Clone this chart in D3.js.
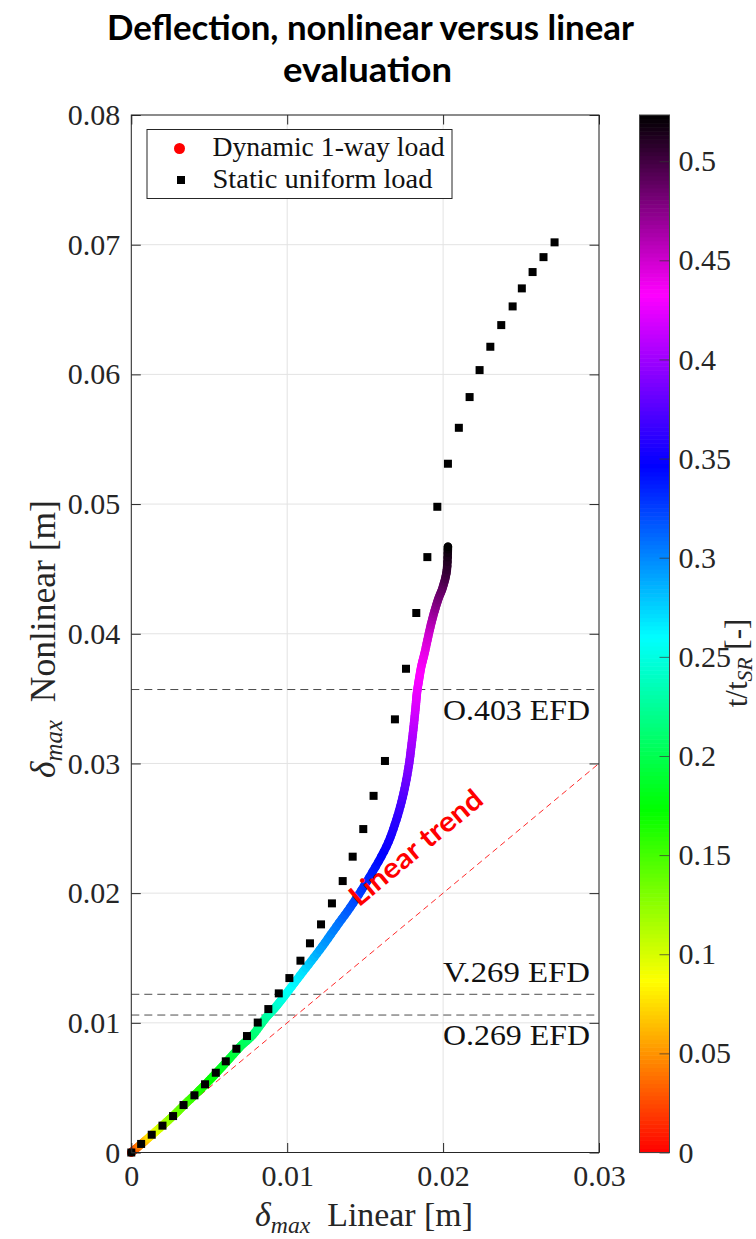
<!DOCTYPE html>
<html>
<head>
<meta charset="utf-8">
<script src="https://cdn.jsdelivr.net/npm/d3@7"></script>
<style>
  body { margin: 0; background: #fff; }
  svg { display: block; }
</style>
</head>
<body>
<svg id="chart" width="756" height="1239"></svg>
<script>
// Static uniform load: maximum deflection, linear vs nonlinear analysis [m]
const staticLinear = [0, 0.00063, 0.00131, 0.00200, 0.00268, 0.00335, 0.00405, 0.00473, 0.00542, 0.00606,
  0.00674, 0.00742, 0.00811, 0.00879, 0.00946, 0.01014, 0.01085, 0.01146, 0.01217, 0.01287,
  0.01356, 0.01420, 0.01488, 0.01554, 0.01627, 0.01691, 0.01762, 0.01828, 0.01899, 0.01963,
  0.02031, 0.02101, 0.02170, 0.02234, 0.02303, 0.02373, 0.02446, 0.02505, 0.02574, 0.02644, 0.02715];
const staticNonlinear = [0, 0.00066, 0.00137, 0.00207, 0.00281, 0.00366, 0.00441, 0.00526, 0.00615, 0.00703,
  0.00800, 0.00898, 0.01002, 0.01106, 0.01227, 0.01345, 0.01479, 0.01613, 0.01759, 0.01921,
  0.02093, 0.02281, 0.02494, 0.02750, 0.03019, 0.03340, 0.03730, 0.04160, 0.04591, 0.04979,
  0.05311, 0.05588, 0.05825, 0.06033, 0.06213, 0.06380, 0.06524, 0.06663, 0.06789, 0.06904, 0.07018];

// Dynamic 1-way load trajectory, with normalised time t/t_SR
const dynLinear = [0, 0.00065, 0.00133, 0.00204, 0.00274, 0.00345, 0.00413, 0.00486, 0.00559, 0.00631,
  0.00704, 0.00779, 0.00862, 0.00926, 0.00995, 0.01101, 0.01208, 0.01315, 0.01422, 0.01529,
  0.01636, 0.01700, 0.01747, 0.01779, 0.01796, 0.01811, 0.01824, 0.01832, 0.01845, 0.01860,
  0.01881, 0.01909, 0.01935, 0.01967, 0.01999, 0.02024, 0.02031];
const dynNonlinear = [0, 0.00066, 0.00137, 0.00212, 0.00289, 0.00374, 0.00451, 0.00538, 0.00631, 0.00726,
  0.00823, 0.00906, 0.01037, 0.01122, 0.01227, 0.01394, 0.01561, 0.01741, 0.01921, 0.02126,
  0.02358, 0.02564, 0.02772, 0.02975, 0.03129, 0.03283, 0.03437, 0.03541, 0.03643, 0.03746,
  0.03849, 0.04003, 0.04131, 0.04260, 0.04362, 0.04491, 0.04671];
const dynTime = [0.01, 0.05, 0.085, 0.11, 0.13, 0.145, 0.16, 0.17, 0.18, 0.19,
  0.20, 0.21, 0.225, 0.24, 0.255, 0.27, 0.29, 0.305, 0.32, 0.335,
  0.35, 0.36, 0.375, 0.39, 0.40, 0.41, 0.42, 0.425, 0.43, 0.435,
  0.44, 0.45, 0.465, 0.48, 0.49, 0.505, 0.523];

// Reference deflection levels
const refLevels = [0.0357, 0.0122, 0.0106];
const refLabels = ["O.403 EFD", "V.269 EFD", "O.269 EFD"];
const refLabelSide = ["below", "above", "below"];

// Linear trend (nonlinear = linear)
const trendLinear = [0, 0.03];
const trendNonlinear = [0, 0.03];

// Axis ticks
const xTicks = [0, 0.01, 0.02, 0.03];
const xTickLabels = ["0", "0.01", "0.02", "0.03"];
const yTicks = [0, 0.01, 0.02, 0.03, 0.04, 0.05, 0.06, 0.07, 0.08];
const yTickLabels = ["0", "0.01", "0.02", "0.03", "0.04", "0.05", "0.06", "0.07", "0.08"];
const cbTicks = [0, 0.05, 0.1, 0.15, 0.2, 0.25, 0.3, 0.35, 0.4, 0.45, 0.5];
const cbTickLabels = ["0", "0.05", "0.1", "0.15", "0.2", "0.25", "0.3", "0.35", "0.4", "0.45", "0.5"];
const timeRange = [0, 0.5233];

const legendLabels = ["Dynamic 1-way load", "Static uniform load"];

const SERIF = "'Liberation Serif', 'DejaVu Serif', serif";
const SANS = "Lato, 'Open Sans', 'Liberation Sans', sans-serif";

const svg = d3.select("#chart");
const defs = svg.append("defs");

const plot = { left: 131.3, right: 599, top: 115, bottom: 1152.5 };
const x = d3.scaleLinear().domain([0, 0.03]).range([plot.left, plot.right]);
const y = d3.scaleLinear().domain([0, 0.08]).range([plot.bottom, plot.top]);

// Colour map: hue sweep red -> magenta, then fade to black
const hueEnd = 0.433;
function cmap(t) {
  if (t <= hueEnd) {
    return d3.hsl(300 * t / hueEnd, 1, 0.5).formatHex();
  }
  const k = Math.max(0, 1 - (t - hueEnd) / (timeRange[1] - hueEnd));
  return d3.rgb(255 * k, 0, 255 * k).formatHex();
}

function fitLength(sel, w) {
  sel.attr("textLength", w).attr("lengthAdjust", "spacingAndGlyphs");
}
function fitFont(sel, w) {
  const node = sel.node();
  const fs = parseFloat(sel.attr("font-size"));
  const len = node.getComputedTextLength();
  if (len > 0) sel.attr("font-size", fs * w / len);
}

// Title
const title = svg.append("g").attr("font-family", SANS).attr("font-weight", 700)
  .attr("font-size", 35).attr("fill", "#000").attr("text-anchor", "middle");
title.append("text").attr("x", 370.5).attr("y", 40).text("Deflection, nonlinear versus linear")
  .call(fitLength, 527);
title.append("text").attr("x", 367.5).attr("y", 82).text("evaluation")
  .call(fitLength, 169);

// Grid
const grid = svg.append("g").attr("stroke", "#e3e3e3").attr("stroke-width", 1);
grid.selectAll("line.gx").data(xTicks).join("line").attr("class", "gx")
  .attr("x1", d => x(d)).attr("x2", d => x(d)).attr("y1", plot.top).attr("y2", plot.bottom);
grid.selectAll("line.gy").data(yTicks).join("line").attr("class", "gy")
  .attr("x1", plot.left).attr("x2", plot.right).attr("y1", d => y(d)).attr("y2", d => y(d));

// Reference levels
const refs = svg.append("g");
refs.selectAll("line").data(refLevels).join("line")
  .attr("x1", plot.left).attr("x2", plot.right)
  .attr("y1", d => y(d)).attr("y2", d => y(d))
  .attr("stroke", "#4d4d4d").attr("stroke-width", 1).attr("stroke-dasharray", "8,5");

// Linear trend line
svg.append("line")
  .attr("x1", x(trendLinear[0])).attr("y1", y(trendNonlinear[0]))
  .attr("x2", x(trendLinear[1])).attr("y2", y(trendNonlinear[1]))
  .attr("stroke", "#ff2a2a").attr("stroke-width", 1).attr("stroke-dasharray", "6,4");

// Dynamic trajectory, coloured by time; drawn as a Catmull-Rom spline through the samples
const dyn = dynLinear.map((d, i) => ({ px: x(d), py: y(dynNonlinear[i]), t: dynTime[i] }));
const dynG = svg.append("g");
const sub = 6;
function catmull(p0, p1, p2, p3, s) {
  const s2 = s * s, s3 = s2 * s;
  return 0.5 * ((2 * p1) + (-p0 + p2) * s + (2 * p0 - 5 * p1 + 4 * p2 - p3) * s2 + (-p0 + 3 * p1 - 3 * p2 + p3) * s3);
}
for (let i = 0; i < dyn.length - 1; i++) {
  const p0 = dyn[Math.max(0, i - 1)], p1 = dyn[i], p2 = dyn[i + 1], p3 = dyn[Math.min(dyn.length - 1, i + 2)];
  for (let j = 0; j < sub; j++) {
    const s0 = j / sub, s1 = (j + 1) / sub;
    const ax = catmull(p0.px, p1.px, p2.px, p3.px, s0), ay = catmull(p0.py, p1.py, p2.py, p3.py, s0);
    const bx = catmull(p0.px, p1.px, p2.px, p3.px, s1), by = catmull(p0.py, p1.py, p2.py, p3.py, s1);
    const ta = p1.t + (p2.t - p1.t) * s0, tb = p1.t + (p2.t - p1.t) * s1;
    const id = `dseg${i}_${j}`;
    const g = defs.append("linearGradient").attr("id", id).attr("gradientUnits", "userSpaceOnUse")
      .attr("x1", ax).attr("y1", ay).attr("x2", bx).attr("y2", by);
    g.append("stop").attr("offset", 0).attr("stop-color", cmap(ta));
    g.append("stop").attr("offset", 1).attr("stop-color", cmap(tb));
    dynG.append("line").attr("x1", ax).attr("y1", ay).attr("x2", bx).attr("y2", by)
      .attr("stroke", `url(#${id})`).attr("stroke-width", 8.5).attr("stroke-linecap", "round");
  }
}
dynG.append("circle").attr("cx", dyn[0].px).attr("cy", dyn[0].py).attr("r", 4.25).attr("fill", cmap(dyn[0].t));
dynG.append("circle").attr("cx", dyn[dyn.length - 1].px).attr("cy", dyn[dyn.length - 1].py)
  .attr("r", 4.25).attr("fill", cmap(dyn[dyn.length - 1].t));

// Static results
const sq = 8;
svg.append("g").selectAll("rect").data(staticLinear.map((d, i) => [d, staticNonlinear[i]])).join("rect")
  .attr("x", d => x(d[0]) - sq / 2).attr("y", d => y(d[1]) - sq / 2)
  .attr("width", sq).attr("height", sq).attr("fill", "#000");

// Axes (inward ticks on all four sides)
const tickLen = 9.5;
const axisColor = "#262626";
function styleAxis(g) {
  g.select(".domain").remove();
  g.selectAll(".tick line").attr("stroke", axisColor);
  g.selectAll(".tick text").attr("fill", axisColor).attr("font-family", SERIF).attr("font-size", 30);
}
svg.append("g").attr("transform", `translate(0,${plot.bottom})`)
  .call(d3.axisBottom(x).tickValues(xTicks).tickFormat((d, i) => xTickLabels[i])
    .tickSizeInner(-tickLen).tickSizeOuter(0).tickPadding(12.5))
  .call(styleAxis);
svg.append("g").attr("transform", `translate(0,${plot.top})`)
  .call(d3.axisTop(x).tickValues(xTicks).tickFormat("").tickSizeInner(-tickLen).tickSizeOuter(0))
  .call(styleAxis);
svg.append("g").attr("transform", `translate(${plot.left},0)`)
  .call(d3.axisLeft(y).tickValues(yTicks).tickFormat((d, i) => yTickLabels[i])
    .tickSizeInner(-tickLen).tickSizeOuter(0).tickPadding(11))
  .call(styleAxis);
svg.append("g").attr("transform", `translate(${plot.right},0)`)
  .call(d3.axisRight(y).tickValues(yTicks).tickFormat("").tickSizeInner(-tickLen).tickSizeOuter(0))
  .call(styleAxis);
svg.append("rect").attr("x", plot.left).attr("y", plot.top)
  .attr("width", plot.right - plot.left).attr("height", plot.bottom - plot.top)
  .attr("fill", "none").attr("stroke", axisColor).attr("stroke-width", 1);

// Reference labels
svg.append("g").attr("font-family", SERIF).attr("font-size", 30).attr("fill", "#111")
  .attr("text-anchor", "end")
  .selectAll("text").data(refLevels).join("text")
  .attr("x", 590)
  .attr("y", (d, i) => refLabelSide[i] === "below" ? y(d) + 30 : y(d) - 12)
  .text((d, i) => refLabels[i])
  .each(function () { fitLength(d3.select(this), 147); });

// Linear trend annotation
const angle = Math.atan2(y(trendNonlinear[0]) - y(trendNonlinear[1]), x(trendLinear[1]) - x(trendLinear[0])) * 180 / Math.PI;
svg.append("text")
  .attr("transform", `translate(422,855) rotate(${-angle})`)
  .attr("text-anchor", "middle")
  .attr("font-family", SANS).attr("font-weight", 700).attr("font-size", 28)
  .attr("fill", "#ff0000").text("Linear trend")
  .call(fitLength, 164);

// Axis labels
const xl = svg.append("text").attr("x", 364).attr("y", 1226)
  .attr("text-anchor", "middle").attr("font-family", SERIF).attr("font-size", 33).attr("fill", "#262626");
xl.append("tspan").attr("font-style", "italic").text("δ");
xl.append("tspan").attr("font-style", "italic").attr("font-size", "0.7em").attr("dy", 7).text("max");
xl.append("tspan").attr("dy", -7).text("\u2002Linear [m]");
fitFont(xl, 218);

const yl = svg.append("text").attr("transform", "translate(55,639) rotate(-90)")
  .attr("text-anchor", "middle").attr("font-family", SERIF).attr("font-size", 33).attr("fill", "#262626");
yl.append("tspan").attr("font-style", "italic").text("δ");
yl.append("tspan").attr("font-style", "italic").attr("font-size", "0.7em").attr("dy", 7).text("max");
yl.append("tspan").attr("dy", -7).text("\u2002Nonlinear [m]");
fitFont(yl, 278);

// Legend
const lg = svg.append("g");
lg.append("rect").attr("x", 147).attr("y", 129.5).attr("width", 305).attr("height", 69)
  .attr("fill", "#fff").attr("stroke", axisColor).attr("stroke-width", 1);
lg.append("circle").attr("cx", 179.5).attr("cy", 148.5).attr("r", 5.5).attr("fill", "#ff0000");
lg.append("rect").attr("x", 181 - sq / 2).attr("y", 180 - sq / 2).attr("width", sq).attr("height", sq).attr("fill", "#000");
lg.append("text").attr("x", 212.5).attr("y", 156).attr("font-family", SERIF).attr("font-size", 27)
  .attr("fill", "#111").text(legendLabels[0]).call(fitLength, 232);
lg.append("text").attr("x", 212.5).attr("y", 187.5).attr("font-family", SERIF).attr("font-size", 27)
  .attr("fill", "#111").text(legendLabels[1]).call(fitLength, 220);

// Colour bar
const cb = { x: 639.5, w: 30 };
const cy = d3.scaleLinear().domain(timeRange).range([1152.5, 115]);
const steps = d3.range(0, 256);
const stepT = d => timeRange[0] + d * (timeRange[1] - timeRange[0]) / 256;
const cbG = svg.append("g");
cbG.selectAll("rect").data(steps).join("rect")
  .attr("x", cb.x).attr("width", cb.w)
  .attr("y", d => cy(stepT(d + 1)))
  .attr("height", d => cy(stepT(d)) - cy(stepT(d + 1)) + 0.6)
  .attr("fill", d => cmap(stepT(d + 0.5)));
cbG.append("rect").attr("x", cb.x).attr("y", cy(timeRange[1])).attr("width", cb.w)
  .attr("height", cy(timeRange[0]) - cy(timeRange[1]))
  .attr("fill", "none").attr("stroke", "#444").attr("stroke-width", 1);
svg.append("g").attr("transform", `translate(${cb.x + cb.w},0)`)
  .call(d3.axisRight(cy).tickValues(cbTicks).tickFormat((d, i) => cbTickLabels[i])
    .tickSizeInner(-10).tickSizeOuter(0).tickPadding(9))
  .call(styleAxis)
  .selectAll(".tick line").attr("stroke", "#333").attr("stroke-opacity", 0.7);

// Colour bar label (rotated), kept inside the right edge
const cl = svg.append("text").attr("transform", "translate(747,663) rotate(-90)")
  .attr("text-anchor", "middle").attr("font-family", SERIF).attr("font-size", 31).attr("fill", "#262626");
cl.append("tspan").text("t/t");
cl.append("tspan").attr("font-style", "italic").attr("font-size", "0.7em").attr("dy", 5).text("SR");
cl.append("tspan").attr("dy", -5).text(" [-]");
</script>
</body>
</html>
